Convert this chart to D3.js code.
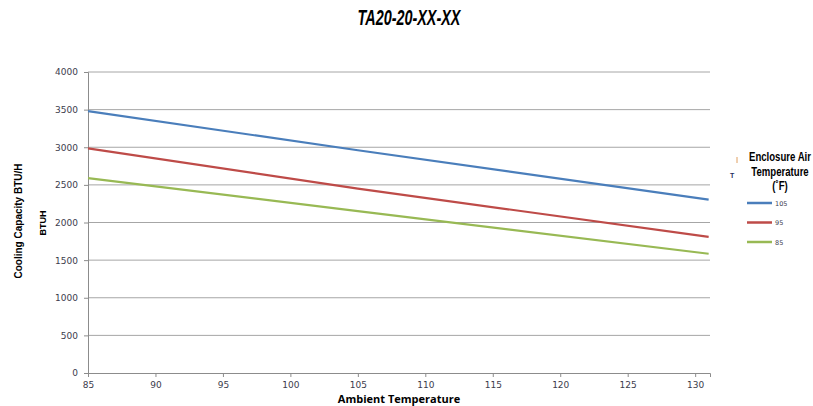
<!DOCTYPE html>
<html>
<head>
<meta charset="utf-8">
<script src="https://cdn.jsdelivr.net/npm/d3@7"></script>
<style>
  body { margin: 0; background: #fff; }
  svg { display: block; }
</style>
</head>
<body>
<div id="chart"></div>
<script>
// Ambient temperature points
const ambientTemps = [85, 105, 131];
// Cooling capacity (BTU/H) per enclosure air temperature
const capacity105 = [3480, 2960, 2305];
const capacity95 = [2985, 2450, 1810];
const capacity85 = [2590, 2150, 1585];
const seriesNames = ["105", "95", "85"];
const seriesColors = ["#4a7ebb", "#be4b48", "#98b954"];
const xTicks = [85, 90, 95, 100, 105, 110, 115, 120, 125, 130];
const yTicks = [0, 500, 1000, 1500, 2000, 2500, 3000, 3500, 4000];

const W = 813, H = 406;
const margin = { top: 72, right: 103, bottom: 33, left: 88 };
const width = W - margin.left - margin.right;
const height = H - margin.top - margin.bottom;

const svg = d3.select("#chart").append("svg")
    .attr("width", W)
    .attr("height", H);

// Title (squeezed to look like a narrow font)
svg.append("text")
    .attr("transform", "translate(409,25) scale(0.655,1)")
    .attr("text-anchor", "middle")
    .style("font-family", "'Liberation Sans', Arial, sans-serif")
    .style("font-size", "22px")
    .style("font-weight", "bold")
    .style("font-style", "italic")
    .text("TA20-20-XX-XX");

const g = svg.append("g")
    .attr("transform", `translate(${margin.left},${margin.top})`);

const x = d3.scaleLinear().domain([85, 131.1]).range([0, width]);
const y = d3.scaleLinear().domain([0, 4000]).range([height, 0]);

// Horizontal gridlines
g.selectAll(".grid")
    .data(yTicks.filter(d => d > 0))
    .enter().append("line")
    .attr("x1", 0).attr("x2", width)
    .attr("y1", d => y(d)).attr("y2", d => y(d))
    .attr("stroke", "#a6a6a6")
    .attr("stroke-width", 1);

// Y axis
const yAxis = g.append("g")
    .call(d3.axisLeft(y).tickValues(yTicks).tickFormat(d3.format("d")).tickSize(4).tickPadding(6));
yAxis.select(".domain").attr("stroke", "#8c8c8c");
yAxis.selectAll(".tick line").attr("stroke", "#8c8c8c");

// X axis
const xAxis = g.append("g")
    .attr("transform", `translate(0,${height})`)
    .call(d3.axisBottom(x).tickValues(xTicks).tickFormat(d3.format("d")).tickSize(4).tickPadding(5));
xAxis.select(".domain").attr("stroke", "#8c8c8c");
xAxis.selectAll(".tick line").attr("stroke", "#8c8c8c");

g.selectAll(".tick text")
    .style("font-family", "'DejaVu Sans', sans-serif")
    .style("font-size", "9px")
    .attr("fill", "#3c3c4c");

// Lines
const series = [capacity105, capacity95, capacity85];
const line = d3.line()
    .x((d, i) => x(ambientTemps[i]))
    .y(d => y(d));

g.selectAll(".series")
    .data(series)
    .enter().append("path")
    .attr("d", d => line(d))
    .attr("fill", "none")
    .attr("stroke", (d, i) => seriesColors[i])
    .attr("stroke-width", 2.2);

// Axis titles
svg.append("text")
    .attr("x", 399).attr("y", 403)
    .attr("text-anchor", "middle")
    .style("font-family", "'Open Sans', sans-serif")
    .style("font-size", "11px")
    .style("font-weight", "bold")
    .text("Ambient Temperature");

svg.append("text")
    .attr("transform", "translate(22,221) rotate(-90)")
    .attr("text-anchor", "middle")
    .style("font-family", "'Liberation Sans', Arial, sans-serif")
    .style("font-size", "10px")
    .style("font-weight", "bold")
    .text("Cooling Capacity BTU/H");

svg.append("text")
    .attr("transform", "translate(46,223) rotate(-90)")
    .attr("text-anchor", "middle")
    .style("font-family", "'Liberation Sans', Arial, sans-serif")
    .style("font-size", "9px")
    .style("font-weight", "bold")
    .text("BTUH");

// Legend
const legend = svg.append("g");
const titleLines = [
    { t: "Enclosure Air", y: 161 },
    { t: "Temperature", y: 176 },
    { t: "(˚F)", y: 190 }
];
legend.selectAll(".lt")
    .data(titleLines)
    .enter().append("text")
    .attr("transform", d => `translate(780,${d.y}) scale(0.8,1)`)
    .attr("text-anchor", "middle")
    .style("font-family", "'Liberation Sans', Arial, sans-serif")
    .style("font-size", "12px")
    .style("font-weight", "bold")
    .text(d => d.t);

// leftover clipped label fragment seen in the reference
legend.append("line")
    .attr("x1", 737).attr("x2", 737).attr("y1", 157).attr("y2", 163)
    .attr("stroke", "#e0a060").attr("stroke-width", 1);
legend.append("text")
    .attr("x", 730).attr("y", 178)
    .style("font-family", "'Liberation Sans', sans-serif")
    .style("font-size", "7px")
    .style("font-weight", "bold")
    .attr("fill", "#1f2f5f")
    .text("T");

const items = legend.selectAll(".li")
    .data(seriesNames)
    .enter().append("g")
    .attr("transform", (d, i) => `translate(747,${203 + i * 19.5})`);
items.append("line")
    .attr("x1", 0).attr("x2", 25)
    .attr("stroke", (d, i) => seriesColors[i])
    .attr("stroke-width", 2.5);
items.append("text")
    .attr("x", 28).attr("y", 2.5)
    .style("font-family", "'DejaVu Sans', sans-serif")
    .style("font-size", "6.5px")
    .attr("fill", "#404050")
    .text(d => d);
</script>
</body>
</html>
